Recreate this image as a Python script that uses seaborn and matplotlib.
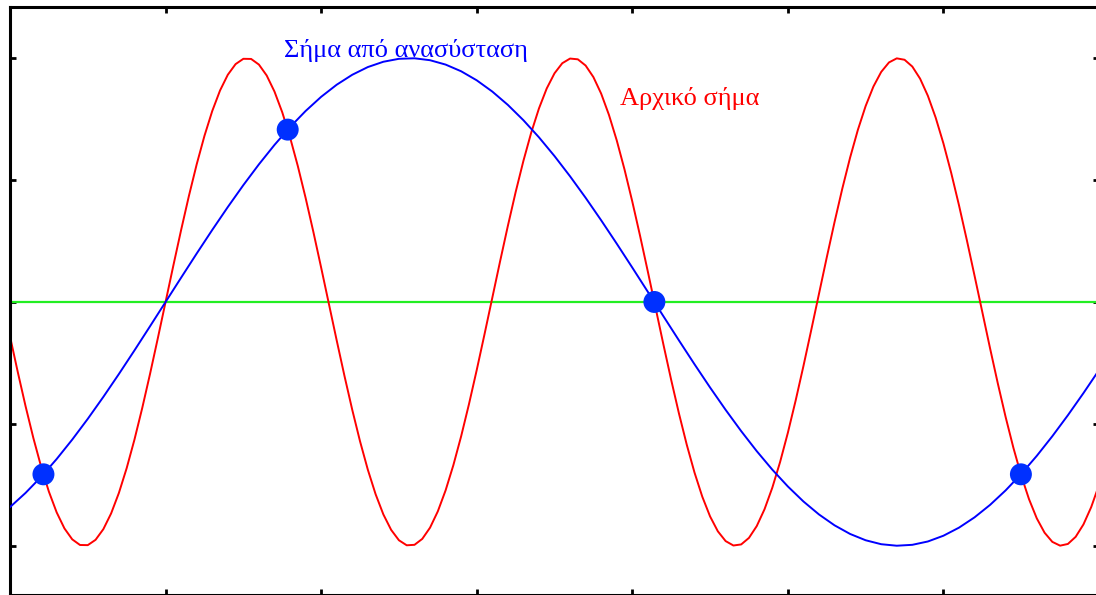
import matplotlib
matplotlib.use("Agg")
import matplotlib.pyplot as plt
import seaborn as sns

# time axis for the original (red) signal, radians
t_original = [-1.0, -0.95, -0.9, -0.85, -0.8, -0.75, -0.7, -0.65, -0.6, -0.55,
              -0.5, -0.45, -0.4, -0.35, -0.3, -0.25, -0.2, -0.15, -0.1, -0.05,
              0.0, 0.05, 0.1, 0.15, 0.2, 0.25, 0.3, 0.35, 0.4, 0.45,
              0.5, 0.55, 0.6, 0.65, 0.7, 0.75, 0.8, 0.85, 0.9, 0.95,
              1.0, 1.05, 1.1, 1.15, 1.2, 1.25, 1.3, 1.35, 1.4, 1.45,
              1.5, 1.55, 1.6, 1.65, 1.7, 1.75, 1.8, 1.85, 1.9, 1.95,
              2.0, 2.05, 2.1, 2.15, 2.2, 2.25, 2.3, 2.35, 2.4, 2.45,
              2.5, 2.55, 2.6, 2.65, 2.7, 2.75, 2.8, 2.85, 2.9, 2.95,
              3.0, 3.05, 3.1, 3.15, 3.2, 3.25, 3.3, 3.35, 3.4, 3.45,
              3.5, 3.55, 3.6, 3.65, 3.7, 3.75, 3.8, 3.85, 3.9, 3.95,
              4.0, 4.05, 4.1, 4.15, 4.2, 4.25, 4.3, 4.35, 4.4, 4.45,
              4.5, 4.55, 4.6, 4.65, 4.7, 4.75, 4.8, 4.85, 4.9, 4.95,
              5.0, 5.05, 5.1, 5.15, 5.2, 5.25, 5.3, 5.35, 5.4, 5.45,
              5.5, 5.55, 5.6, 5.65, 5.7, 5.75, 5.8, 5.85, 5.9, 5.95,
              6.0]

# original signal (red)
original = [-0.1411, -0.2875, -0.4274, -0.5577, -0.6755, -0.7781, -0.8632, -0.9290, -0.9738, -0.9969,
            -0.9975, -0.9757, -0.9320, -0.8674, -0.7833, -0.6816, -0.5646, -0.4350, -0.2955, -0.1494,
            0.0000, 0.1494, 0.2955, 0.4350, 0.5646, 0.6816, 0.7833, 0.8674, 0.9320, 0.9757,
            0.9975, 0.9969, 0.9738, 0.9290, 0.8632, 0.7781, 0.6755, 0.5577, 0.4274, 0.2875,
            0.1411, -0.0084, -0.1577, -0.3035, -0.4425, -0.5716, -0.6878, -0.7885, -0.8716, -0.9349,
            -0.9775, -0.9981, -0.9962, -0.9719, -0.9258, -0.8589, -0.7728, -0.6692, -0.5507, -0.4197,
            -0.2794, -0.1328, 0.0168, 0.1660, 0.3115, 0.4501, 0.5784, 0.6939, 0.7937, 0.8758,
            0.9380, 0.9794, 0.9985, 0.9954, 0.9699, 0.9226, 0.8546, 0.7674, 0.6630, 0.5436,
            0.4121, 0.2714, 0.1245, -0.0252, -0.1743, -0.3196, -0.4575, -0.5852, -0.6998, -0.7988,
            -0.8797, -0.9408, -0.9809, -0.9990, -0.9946, -0.9678, -0.9193, -0.8503, -0.7620, -0.6567,
            -0.5366, -0.4045, -0.2633, -0.1161, 0.0336, 0.1826, 0.3275, 0.4650, 0.5920, 0.7059,
            0.8038, 0.8838, 0.9437, 0.9826, 0.9993, 0.9936, 0.9657, 0.9160, 0.8457, 0.7565,
            0.6503, 0.5294, 0.3968, 0.2551, 0.1078, -0.0420, -0.1908, -0.3354, -0.4724, -0.5988,
            -0.7118, -0.8087, -0.8876, -0.9464, -0.9841, -0.9996, -0.9927, -0.9634, -0.9126, -0.8413,
            -0.7510]

# time axis for the reconstructed (blue) signal, radians
t_reconstructed = [-1.0, -0.9, -0.8, -0.7, -0.6, -0.5, -0.4, -0.3, -0.2, -0.1,
                   0.0, 0.1, 0.2, 0.3, 0.4, 0.5, 0.6, 0.7, 0.8, 0.9,
                   1.0, 1.1, 1.2, 1.3, 1.4, 1.5, 1.6, 1.7, 1.8, 1.9,
                   2.0, 2.1, 2.2, 2.3, 2.4, 2.5, 2.6, 2.7, 2.8, 2.9,
                   3.0, 3.1, 3.2, 3.3, 3.4, 3.5, 3.6, 3.7, 3.8, 3.9,
                   4.0, 4.1, 4.2, 4.3, 4.4, 4.5, 4.6, 4.7, 4.8, 4.9,
                   5.0, 5.1, 5.2, 5.3, 5.4, 5.5, 5.6, 5.7, 5.8, 5.9,
                   6.0]

# reconstructed signal (blue)
reconstructed = [-0.8415, -0.7833, -0.7174, -0.6442, -0.5646, -0.4794, -0.3894, -0.2955, -0.1987, -0.0998,
                 0.0000, 0.0998, 0.1987, 0.2955, 0.3894, 0.4794, 0.5646, 0.6442, 0.7174, 0.7833,
                 0.8415, 0.8912, 0.9320, 0.9636, 0.9854, 0.9975, 0.9996, 0.9917, 0.9738, 0.9463,
                 0.9093, 0.8632, 0.8085, 0.7457, 0.6755, 0.5985, 0.5155, 0.4274, 0.3350, 0.2392,
                 0.1411, 0.0416, -0.0584, -0.1577, -0.2555, -0.3508, -0.4425, -0.5298, -0.6119, -0.6878,
                 -0.7568, -0.8183, -0.8716, -0.9162, -0.9516, -0.9775, -0.9937, -0.9999, -0.9962, -0.9825,
                 -0.9589, -0.9258, -0.8835, -0.8323, -0.7728, -0.7055, -0.6313, -0.5507, -0.4646, -0.3739,
                 -0.2794]

# sample points
sample_t = [-0.785, 0.785, 3.142, 5.498]
sample_v = [-0.707, 0.707, 0.0, -0.707]

baseline_level = 0.0

label_reconstructed = "Σήμα από ανασύσταση"
label_original = "Αρχικό σήμα"

sns.set_style("white")
plt.rcParams['font.family'] = ['Liberation Serif', 'DejaVu Serif']

fig = plt.figure(figsize=(10.96, 5.95), dpi=100)
ax = fig.add_axes([10 / 1096, 0.5 / 595, 1089 / 1096, 587.5 / 595])

ax.axhline(baseline_level, color="#22ee22", linewidth=1.6, zorder=1)
sns.lineplot(x=t_original, y=original, color="#ff0000", linewidth=1.4,
             estimator=None, ax=ax, zorder=2)
sns.lineplot(x=t_reconstructed, y=reconstructed, color="#0000ff", linewidth=1.4,
             estimator=None, ax=ax, zorder=3)
sns.scatterplot(x=sample_t, y=sample_v, s=250, color="#0030ff", edgecolor="none", ax=ax, zorder=5)

ax.text(0.76, 1.006, label_reconstructed, color="#0000ff", fontsize=19, ha="left", va="baseline")
ax.text(2.92, 0.809, label_original, color="#ff0000", fontsize=19, ha="left", va="baseline")

ax.set_xlim(-1, 6)
ax.set_ylim(-1.2, 1.21)
ax.set_xticks([0, 1, 2, 3, 4, 5])
ax.set_yticks([-1, -0.5, 0, 0.5, 1])
ax.tick_params(direction="in", top=True, right=True, bottom=True, left=True,
               length=4.5, width=2, color="black",
               labelleft=False, labelbottom=False, labeltop=False, labelright=False)
for s in ax.spines.values():
    s.set_color("black")
    s.set_linewidth(2.2)
ax.set_xlabel("")
ax.set_ylabel("")

fig.savefig("out.png", dpi=100, facecolor="white")
